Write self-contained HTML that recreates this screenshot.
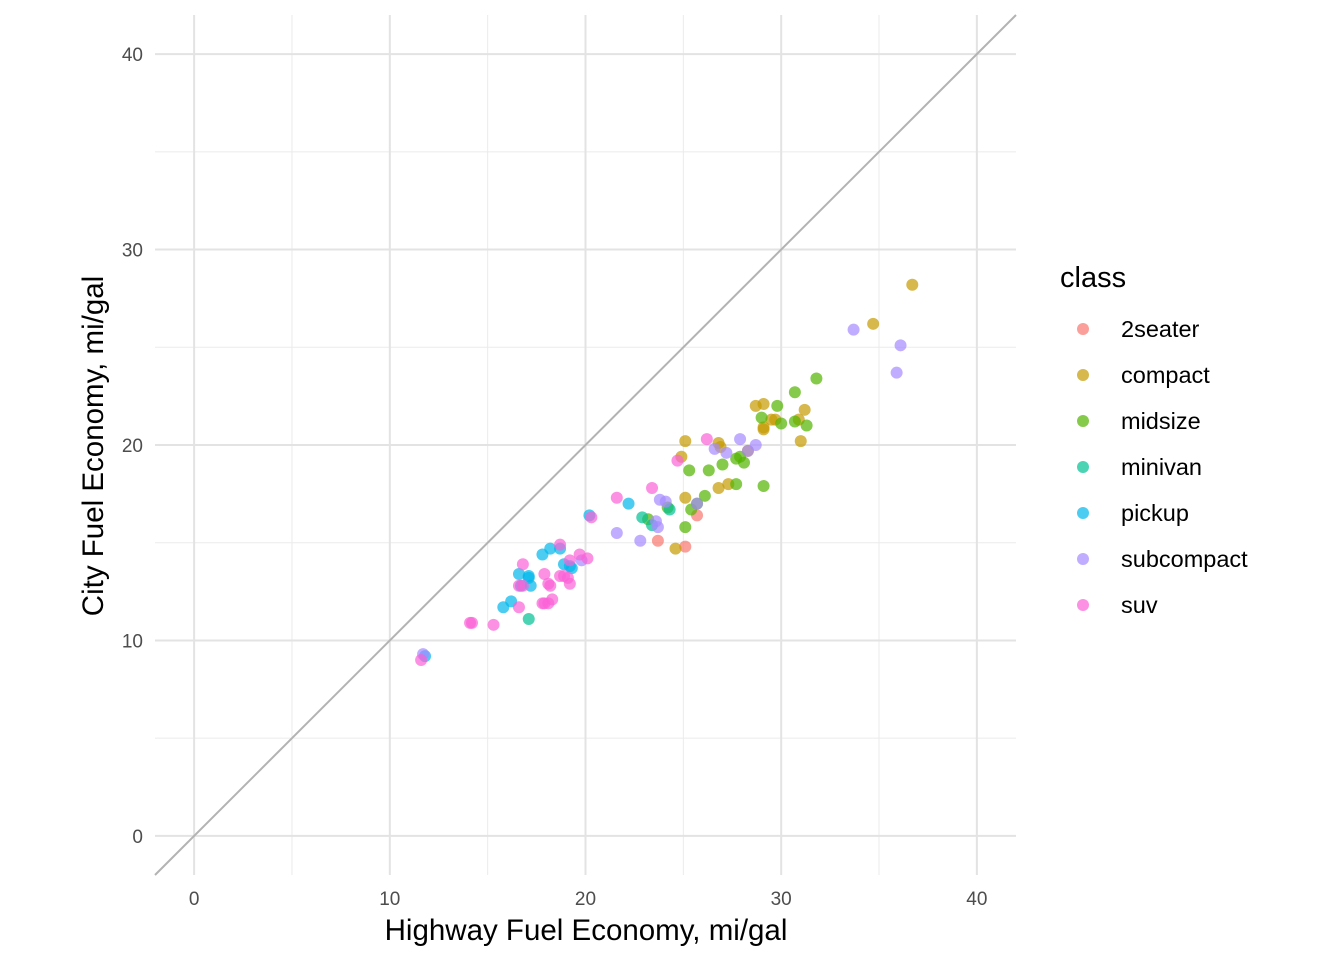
<!DOCTYPE html>
<html><head><meta charset="utf-8"><style>
body{margin:0;background:#fff}
svg{font-family:"Liberation Sans",Arial,sans-serif}
</style></head><body>
<svg id="chart" width="1344" height="960"></svg>
<script>
const classes=["2seater","compact","midsize","minivan","pickup","subcompact","suv"];
const colors=["#F8766D","#C49A00","#53B400","#00C094","#00B6EB","#A58AFF","#FB61D7"];
const hwy2seater=[23.7,25.1,25.7];
const cty2seater=[15.1,14.8,16.4];
const hwyCompact=[36.7,34.7,28.7,29.1,31.2,31.0,30.9,29.1,29.5,25.1,24.9,26.8,26.9,25.1,26.8,27.3,24.6,28.3,29.7,29.1];
const ctyCompact=[28.2,26.2,22.0,22.1,21.8,20.2,21.3,20.8,21.3,20.2,19.4,20.1,19.9,17.3,17.8,18.0,14.7,19.7,21.3,20.9];
const hwyMidsize=[31.8,30.7,29.8,29.0,30.7,31.3,30.0,25.3,26.3,27.0,27.9,27.7,28.1,27.7,29.1,26.1,25.4,25.1,24.2,23.2,25.7];
const ctyMidsize=[23.4,22.7,22.0,21.4,21.2,21.0,21.1,18.7,18.7,19.0,19.4,19.3,19.1,18.0,17.9,17.4,16.7,15.8,16.8,16.2,17.0];
const hwyMinivan=[22.9,23.4,24.3,17.1];
const ctyMinivan=[16.3,15.9,16.7,11.1];
const hwyPickup=[20.2,22.2,18.2,17.8,18.7,16.6,17.1,17.2,15.8,16.2,16.7,19.2,18.9,19.3,11.8,17.1];
const ctyPickup=[16.4,17.0,14.7,14.4,14.7,13.4,13.3,12.8,11.7,12.0,12.8,13.8,13.9,13.7,9.2,13.2];
const hwySubcompact=[33.7,36.1,35.9,28.7,27.9,27.2,28.3,21.6,22.8,23.7,23.6,23.8,24.1,25.7,26.6,19.8,11.7];
const ctySubcompact=[25.9,25.1,23.7,20.0,20.3,19.6,19.7,15.5,15.1,15.8,16.1,17.2,17.1,17.0,19.8,14.1,9.3];
const hwySuv=[26.2,24.7,23.4,21.6,20.3,18.7,19.7,20.1,19.2,19.2,18.9,18.2,18.3,17.9,18.1,17.8,17.9,16.8,16.6,16.8,16.6,15.3,14.1,14.2,11.6,18.7,19.1,18.1];
const ctySuv=[20.3,19.2,17.8,17.3,16.3,14.9,14.4,14.2,14.1,12.9,13.3,12.8,12.1,11.9,11.9,11.9,13.4,13.9,12.8,12.8,11.7,10.8,10.9,10.9,9.0,13.3,13.2,12.9];
const xTicks=[0,10,20,30,40];
const yTicks=[0,10,20,30,40];

const series=[[hwy2seater,cty2seater],[hwyCompact,ctyCompact],[hwyMidsize,ctyMidsize],[hwyMinivan,ctyMinivan],[hwyPickup,ctyPickup],[hwySubcompact,ctySubcompact],[hwySuv,ctySuv]];
const NS="http://www.w3.org/2000/svg";
const svg=document.getElementById("chart");
const L=155,R=1016,T=15,B=875;
const xmin=-2,xmax=42,ymin=-2,ymax=42;
const sx=v=>L+(v-xmin)/(xmax-xmin)*(R-L);
const sy=v=>B-(v-ymin)/(ymax-ymin)*(B-T);
function mk(tag,attrs,parent){const e=document.createElementNS(NS,tag);for(const k in attrs)e.setAttribute(k,attrs[k]);(parent||svg).appendChild(e);return e;}
const grid=mk("g",{});


for(let i=0;i<xTicks.length-1;i++){
 const m=(xTicks[i]+xTicks[i+1])/2;
 mk("line",{x1:sx(m),x2:sx(m),y1:T,y2:B,stroke:"#ebebeb","stroke-width":1},grid);
 mk("line",{x1:L,x2:R,y1:sy(m),y2:sy(m),stroke:"#ebebeb","stroke-width":1},grid);
}
xTicks.forEach(t=>{
 mk("line",{x1:sx(t),x2:sx(t),y1:T,y2:B,stroke:"#e3e3e3","stroke-width":2},grid);
 const tx=mk("text",{x:sx(t),y:905,"text-anchor":"middle","font-size":19,fill:"#4d4d4d"});
 tx.textContent=t;
 
 
});
yTicks.forEach(t=>{
 mk("line",{x1:L,x2:R,y1:sy(t),y2:sy(t),stroke:"#e3e3e3","stroke-width":2},grid);
 const tx=mk("text",{x:143,y:sy(t)+7,"text-anchor":"end","font-size":19,fill:"#4d4d4d"});
 tx.textContent=t;
 
 
});
const ref=mk("line",{x1:sx(xmin),y1:sy(ymin),x2:sx(xmax),y2:sy(ymax),stroke:"#b3b3b3","stroke-width":2});


series.forEach((s,ci)=>{
 s[0].forEach((x,i)=>{
  const c=mk("circle",{cx:sx(x),cy:sy(s[1][i]),r:6,fill:colors[ci],"fill-opacity":0.7});
  
  
 });
});
const xt=mk("text",{x:586,y:940,"text-anchor":"middle","font-size":29.5,fill:"#000"});
xt.textContent="Highway Fuel Economy, mi/gal";


const yt=mk("text",{x:0,y:0,"text-anchor":"middle","font-size":29.5,fill:"#000",transform:"translate(103,446) rotate(-90)"});
yt.textContent="City Fuel Economy, mi/gal";


const lt=mk("text",{x:1060,y:287,"font-size":29,fill:"#000"});
lt.textContent="class";


classes.forEach((c,i)=>{
 const g=mk("g",{});
 
 
 const y=329+i*46;
 mk("circle",{cx:1083,cy:y,r:6,fill:colors[i],"fill-opacity":0.7},g);
 const t=mk("text",{x:1121,y:y+8,"font-size":23.5,fill:"#000"},g);
 t.textContent=c;
});
</script>
</body></html>
